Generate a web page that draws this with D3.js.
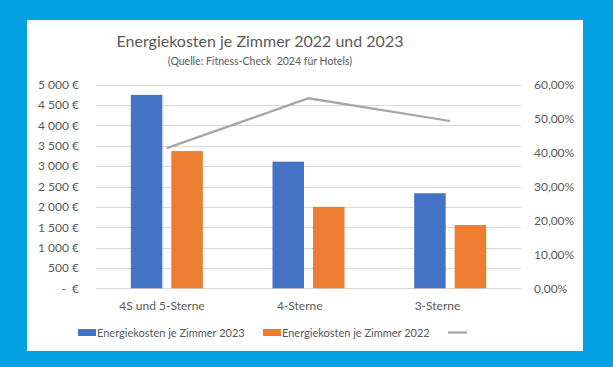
<!DOCTYPE html>
<html>
<head>
<meta charset="utf-8">
<script src="https://cdn.jsdelivr.net/npm/d3@7"></script>
<style>
  body { margin: 0; background: #02a1e4; }
  svg { display: block; }
  text { font-family: Lato, "Open Sans", sans-serif; fill: #595959; white-space: pre; }
</style>
</head>
<body>
<div id="chart"></div>
<script>
// values
var categories = ["4S und 5-Sterne", "4-Sterne", "3-Sterne"];
var kosten2023 = [4750, 3110, 2335];
var kosten2022 = [3370, 2000, 1555];
var anstieg = [0.413, 0.56, 0.493];
var leftTicks = [0, 500, 1000, 1500, 2000, 2500, 3000, 3500, 4000, 4500, 5000];
var rightTicks = [0, 0.1, 0.2, 0.3, 0.4, 0.5, 0.6];
var seriesNames = ["Energiekosten je Zimmer 2023", "Energiekosten je Zimmer 2022", ""];

var W = 613, H = 367;
var plot = {left: 96, right: 521, top: 84.7, bottom: 288.3};

var svg = d3.select("#chart").append("svg")
    .attr("width", W)
    .attr("height", H);

// white panel
svg.append("rect")
    .attr("x", 27).attr("y", 20)
    .attr("width", 556).attr("height", 331)
    .attr("fill", "#ffffff");

var x = d3.scaleBand()
    .domain(categories)
    .range([plot.left, plot.right]);

var xSub = d3.scaleBand()
    .domain(["2023", "2022"])
    .range([0, x.bandwidth()])
    .paddingInner(0.222)
    .paddingOuter(0.86);

var y = d3.scaleLinear().domain([0, 5000]).range([plot.bottom, plot.top]);
var y2 = d3.scaleLinear().domain([0, 0.6]).range([plot.bottom, plot.top]);

// labels sit a bit left of the bar groups in the original
var xLabel = d3.scalePoint().domain(categories).range([162, 437.5]);

// gridlines
svg.append("g")
    .selectAll("line")
    .data(leftTicks)
    .enter()
    .append("line")
    .attr("x1", plot.left).attr("x2", plot.right)
    .attr("y1", d => Math.round(y(d)) + 0.5)
    .attr("y2", d => Math.round(y(d)) + 0.5)
    .attr("stroke", "#d9d9d9")
    .attr("stroke-width", 1);

// left axis
var euro = d => d === 0 ? "-  €" : d3.format(",")(d).replace(/,/g, " ") + " €";
var leftAxis = svg.append("g")
    .attr("transform", "translate(79,0)")
    .call(d3.axisLeft(y).tickValues(leftTicks).tickFormat(euro).tickSize(0).tickPadding(0));
leftAxis.select(".domain").remove();
leftAxis.selectAll("text").style("font-size", "12px").style("font-family", "Lato, sans-serif").attr("fill", "#595959");

// right axis
var pct = d => d3.format(".2%")(d).replace(".", ",");
var rightAxis = svg.append("g")
    .attr("transform", "translate(534,0)")
    .call(d3.axisRight(y2).tickValues(rightTicks).tickFormat(pct).tickSize(0).tickPadding(0));
rightAxis.select(".domain").remove();
rightAxis.selectAll("text").style("font-size", "12px").style("font-family", "Lato, sans-serif").attr("fill", "#595959");

// bars
var groups = svg.append("g")
    .selectAll("g")
    .data(categories)
    .enter()
    .append("g")
    .attr("transform", d => "translate(" + x(d) + ",0)");

groups.append("rect")
    .attr("x", xSub("2023"))
    .attr("width", xSub.bandwidth())
    .attr("y", (d, i) => y(kosten2023[i]))
    .attr("height", (d, i) => plot.bottom - y(kosten2023[i]))
    .attr("fill", "#4472c4");

groups.append("rect")
    .attr("x", xSub("2022"))
    .attr("width", xSub.bandwidth())
    .attr("y", (d, i) => y(kosten2022[i]))
    .attr("height", (d, i) => plot.bottom - y(kosten2022[i]))
    .attr("fill", "#ed7d31");

// line on secondary axis
var line = d3.line()
    .x((d, i) => x(categories[i]) + x.bandwidth() / 2)
    .y(d => y2(d));

svg.append("path")
    .datum(anstieg)
    .attr("d", line)
    .attr("fill", "none")
    .attr("stroke", "#a5a5a5")
    .attr("stroke-width", 2.25);

// category labels
svg.append("g")
    .selectAll("text")
    .data(categories)
    .enter()
    .append("text")
    .attr("x", d => xLabel(d))
    .attr("y", 310)
    .attr("text-anchor", "middle")
    .style("font-size", "12px")
    .text(d => d);

// title
svg.append("text")
    .attr("x", 260).attr("y", 47)
    .attr("text-anchor", "middle")
    .style("font-size", "16px")
    .text("Energiekosten je Zimmer 2022 und 2023");

svg.append("text")
    .attr("x", 260).attr("y", 65)
    .attr("text-anchor", "middle")
    .style("font-size", "10.5px")
    .text("(Quelle: Fitness-Check  2024 für Hotels)");

// legend
var legend = svg.append("g");
legend.append("rect").attr("x", 78).attr("y", 329).attr("width", 18).attr("height", 7).attr("fill", "#4472c4");
legend.append("text").attr("x", 97).attr("y", 336.5).style("font-size", "11px").text(seriesNames[0]);
legend.append("rect").attr("x", 263).attr("y", 329).attr("width", 18).attr("height", 7).attr("fill", "#ed7d31");
legend.append("text").attr("x", 282).attr("y", 336.5).style("font-size", "11px").text(seriesNames[1]);
legend.append("line").attr("x1", 448).attr("x2", 467).attr("y1", 332.5).attr("y2", 332.5)
    .attr("stroke", "#a5a5a5").attr("stroke-width", 2.25);
</script>
</body>
</html>
